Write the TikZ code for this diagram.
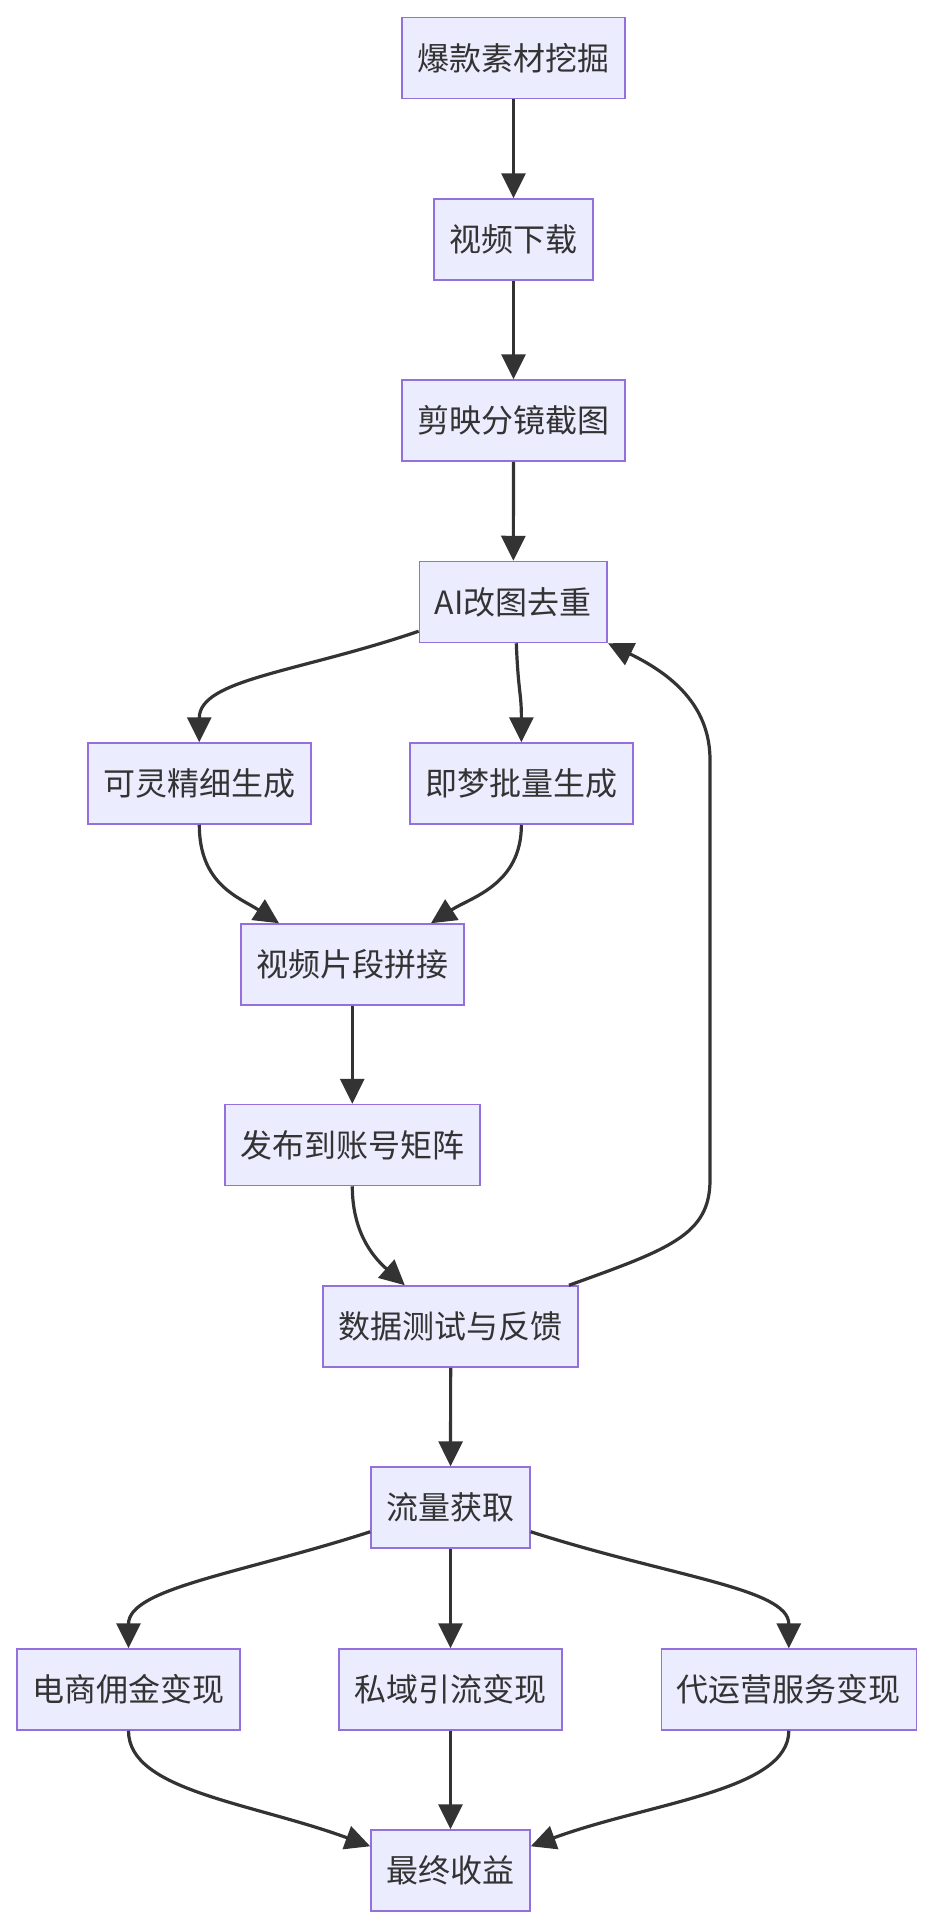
\documentclass[tikz,border=0pt]{standalone}
\usepackage{fontspec}
\setmainfont{Noto Sans CJK SC}
\usepackage{xcolor}
\usepackage{tikz}
\usetikzlibrary{arrows.meta}
\definecolor{mmfill}{RGB}{236,236,255}
\definecolor{mmborder}{RGB}{147,112,219}
\definecolor{mmtext}{RGB}{51,51,51}
\definecolor{mmedge}{RGB}{51,51,51}

\begin{document}
\begin{tikzpicture}[x=0.5pt, y=-0.5pt,
    stepbox/.style={draw=mmborder, fill=mmfill, line width=0.75pt, text=mmtext,
          inner xsep=7.75pt, inner ysep=0pt, minimum height=40.5pt,
          font=\fontsize{16pt}{19pt}\selectfont},
    flow/.style={draw=mmedge, line width=1.6pt, -{Triangle[length=12.5pt,width=12pt]}}]
    \useasboundingbox[fill=white] (0,0) rectangle (932,1928);

    \node[stepbox] (wajue) at (513.5,58) {爆款素材挖掘};
    \node[stepbox] (xiazai) at (513.5,239.5) {视频下载};
    \node[stepbox] (jietu) at (513.5,420.5) {剪映分镜截图};
    \node[stepbox] (aigai) at (513.3,602) {AI改图去重};

    \node[stepbox] (keling) at (199.3,783.5) {可灵精细生成};
    \node[stepbox] (jimeng) at (521.4,783.5) {即梦批量生成};

    \node[stepbox] (pinjie) at (352.3,964.5) {视频片段拼接};
    \node[stepbox] (fabu) at (352.3,1145) {发布到账号矩阵};
    \node[stepbox] (ceshi) at (450.7,1326.5) {数据测试与反馈};
    \node[stepbox] (liuliang) at (450.5,1507.5) {流量获取};

    \node[stepbox] (dianshang) at (128.5,1689.5) {电商佣金变现};
    \node[stepbox] (siyu) at (450.5,1689.5) {私域引流变现};
    \node[stepbox] (daiyunying) at (788.8,1689.5) {代运营服务变现};
    \node[stepbox] (shouyi) at (450.5,1870.5) {最终收益};

    \coordinate (loopbot) at (710,1180);
    \coordinate (looptop) at (710,760);

    \draw[flow] (wajue) -- (xiazai);
    \draw[flow] (xiazai) -- (jietu);
    \draw[flow] (jietu) -- (aigai);

    \draw[flow] ([yshift=6pt]aigai.south west) .. controls +(-120,41) and +(0,-63) .. (keling.north);
    \draw[flow] ([xshift=1.5pt]aigai.south) .. controls +(2,50) and +(0,-50) .. (jimeng.north);
    \draw[flow] (keling.south) .. controls +(0,60) and +(-40,-26) .. ([xshift=19.5pt]pinjie.north west);
    \draw[flow] (jimeng.south) .. controls +(0,60) and +(40,-26) .. ([xshift=-16.8pt]pinjie.north east);

    \draw[flow] (pinjie) -- (fabu);
    \draw[flow] (fabu.south) .. controls +(0,50) and +(-28,-25) .. ([xshift=41.2pt]ceshi.north west);
    \draw[flow] ([xshift=-5pt]ceshi.north east) .. controls +(100,-36) and +(0,55) .. (loopbot)
        -- (looptop) .. controls +(0,-50) and +(70,34) .. (aigai.south east);
    \draw[flow] (ceshi) -- (liuliang);

    \draw[flow] ([yshift=8.5pt]liuliang.south west) .. controls +(-130,42) and +(0,-60) .. (dianshang.north);
    \draw[flow] (liuliang) -- (siyu);
    \draw[flow] ([yshift=8.5pt]liuliang.south east) .. controls +(140,45) and +(0,-60) .. (daiyunying.north);

    \draw[flow] (dianshang.south) .. controls +(0,60) and +(-120,-44) .. ([yshift=-8.5pt]shouyi.north west);
    \draw[flow] (siyu) -- (shouyi);
    \draw[flow] (daiyunying.south) .. controls +(0,60) and +(120,-44) .. ([yshift=-8.5pt]shouyi.north east);
\end{tikzpicture}
\end{document}
